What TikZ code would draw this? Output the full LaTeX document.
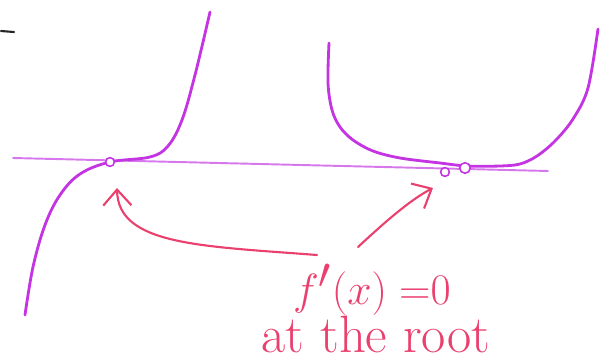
\documentclass[tikz,border=0pt]{standalone}
\usetikzlibrary{arrows.meta}
\definecolor{curvecol}{RGB}{196,52,226}
\definecolor{axiscol}{RGB}{214,120,236}
\definecolor{notecol}{RGB}{234,64,110}
\tikzset{
  curve/.style={draw=curvecol,line width=1.6pt,line cap=round,line join=round},
  axis/.style={draw=axiscol,line width=1.1pt,line cap=round},
  dotmark/.style={circle,draw=curvecol,line width=0.9pt,inner sep=0pt,minimum size=5pt,fill=white},
  note/.style={draw=notecol,line width=1.2pt,line cap=round,-{Straight Barb[length=9pt,width=16pt,line width=1.2pt]}},
  notetext/.style={text=notecol,font=\fontsize{30}{32}\selectfont,inner sep=0pt},
}
\begin{document}
\begin{tikzpicture}[x=0.02cm,y=-0.02cm]
\useasboundingbox (0,0) rectangle (600,362);
% stray black stroke
\draw[line width=1.2pt,line cap=round,black!85] (1,31) -- (14,32);
% axis
\coordinate (axL) at (13,158);
\coordinate (axR) at (548,171);
\draw[axis] (axL) -- (axR);
% left cubic curve
\draw[curve] plot[smooth,tension=0.6] coordinates {(25,315) (33,267) (45,225) (60,195) (80,174) (110,162) (150,157) (168,146) (182,120) (195,75) (210,12)};
% right U curve
\draw[curve] plot[smooth,tension=0.55] coordinates {(329,43) (328,83) (332,110) (340,127) (353,140) (373,151) (400,158) (440,163) (467,166) (500,166) (520,164) (537,156) (555,141) (573,119) (588,88) (598,29)};
% root markers
\node[dotmark] (r1) at (110,162) {};
\node[dotmark] (r2) at (445,172) {};
\node[dotmark,minimum size=6pt] (r3) at (465,168) {};
% labels
\node[notetext,anchor=base,font=\fontsize{34}{36}\selectfont] (lab1) at (372,304) {$f'(x)\;{=}0$};
\node[notetext,anchor=base] (lab2) at (376,352) {at the root};
% arrows
\coordinate (s1) at (317,255);
\coordinate (t1) at (117,188);
\coordinate (s2) at (358,247);
\coordinate (t2) at (433,188);
\draw[note] (s1) .. controls (200,246) and (118,245) .. (t1);
\draw[note] (s2) .. controls (385,222) and (410,200) .. (t2);
\end{tikzpicture}
\end{document}
